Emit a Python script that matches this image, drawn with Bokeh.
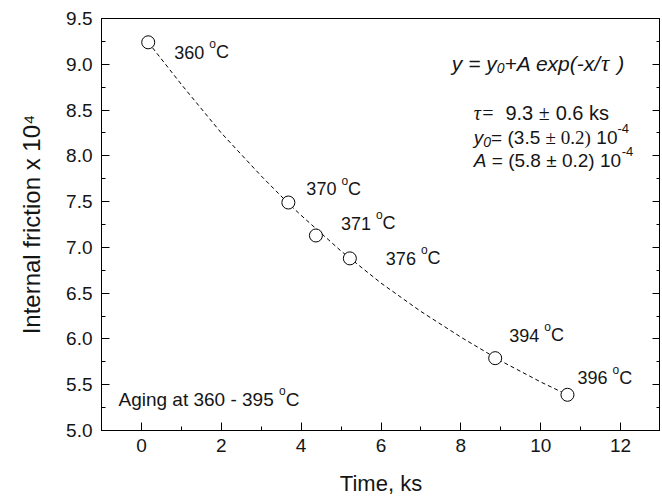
from bokeh.plotting import figure
from bokeh.models import Label, LinearAxis, SingleIntervalTicker, NumeralTickFormatter
from bokeh.embed import file_html
from bokeh.resources import INLINE

# ---- data ----
time_ks = [0.17, 3.68, 4.37, 5.22, 8.86, 10.67]
friction = [9.24, 7.49, 7.13, 6.88, 5.79, 5.39]
temps = ["360", "370", "371", "376", "394", "396"]
fit_x = [0.17, 1, 2, 3, 3.68, 4, 5, 6, 7, 8, 9, 10, 10.67]
fit_y = [9.24, 8.78, 8.25, 7.78, 7.48, 7.35, 6.96, 6.61, 6.30, 6.02, 5.76, 5.53, 5.39]

SANS = "Liberation Sans"
SERIF = "Liberation Serif"
INK = "#151515"

p = figure(frame_width=559, frame_height=412, x_range=(-1, 13), y_range=(5, 9.5),
           output_backend="svg", toolbar_location=None,
           min_border_left=101, min_border_top=18, min_border_right=0, min_border_bottom=62)
p.grid.visible = False
p.outline_line_color = "black"
p.outline_line_width = 1
p.background_fill_color = "white"
p.border_fill_color = "white"

xt = SingleIntervalTicker(interval=2, num_minor_ticks=2)
yt = SingleIntervalTicker(interval=0.5, num_minor_ticks=2)
p.xaxis.ticker = xt
p.yaxis.ticker = yt
p.yaxis.formatter = NumeralTickFormatter(format="0.0")
for ax in (p.xaxis[0], p.yaxis[0]):
    ax.major_tick_in = 8
    ax.major_tick_out = 0
    ax.minor_tick_in = 4
    ax.minor_tick_out = 0
    ax.axis_line_color = "black"
    ax.major_tick_line_color = "black"
    ax.minor_tick_line_color = "black"
    ax.major_label_text_font = SANS
    ax.major_label_text_font_size = "19px"
    ax.major_label_text_color = INK
    ax.axis_label_text_font = SANS
    ax.axis_label_text_font_style = "normal"
    ax.axis_label_text_color = INK
p.xaxis.axis_label = "Time, ks"
p.yaxis.axis_label = "Internal friction x 10\u2074"
p.xaxis.axis_label_text_font_size = "22px"
p.yaxis.axis_label_text_font_size = "24px"
p.xaxis.major_label_standoff = 8
p.yaxis.major_label_standoff = 9
p.xaxis.axis_label_standoff = 16
p.yaxis.axis_label_standoff = 18

rax = LinearAxis(ticker=yt, major_label_text_font_size="0px", major_tick_in=8, major_tick_out=0,
                 minor_tick_in=4, minor_tick_out=0, major_label_standoff=0,
                 axis_line_color="black")
p.add_layout(rax, "right")

p.line(fit_x, fit_y, line_color="black", line_width=1, line_dash="4 3")
p.scatter(time_ks, friction, size=13, marker="circle", fill_color="white",
          line_color="black", line_width=1)

W = {
    SANS: {" ": .278, "(": .333, ")": .333, "+": .584, "-": .333, ".": .278, "/": .278,
           "=": .584, "A": .667, "C": .722, "e": .556, "k": .5, "o": .556, "p": .556,
           "s": .5, "x": .5, "y": .5, "\u00b1": .584, "g": .556, "i": .222, "n": .556,
           "a": .556, "t": .278},
    SERIF: {" ": .25, "(": .333, ")": .333, ".": .25, "=": .564, "\u00b1": .564, "\u03c4": .46},
}


def tw(s, font, size):
    d = W[font]
    dig = .556 if font == SANS else .5
    return sum(d.get(ch, dig if ch.isdigit() else .55) for ch in s) * size


def runs(x, y, dx, dy, parts):
    off = dx
    for text, font, size, style, rise in parts:
        body = text.lstrip(" ")
        off += tw(text[:len(text) - len(body)], font, size)
        if body.strip():
            p.add_layout(Label(x=x, y=y, x_offset=off, y_offset=dy + rise, text=body.rstrip(" "),
                               text_font=font, text_font_size=f"{size}px", text_font_style=style,
                               text_color=INK, text_align="left", text_baseline="alphabetic"))
        off += tw(body, font, size)


def page(px, py):
    return (px - 140) / 40.0, 9.5 - (py - 18) / 91.56


# data-point temperature labels (offsets in px from each point)
offsets = [(26, -10), (18, 14), (25, 12), (36, 0), (14, 23), (10, 17)]
for t, f, lab, (ox, oy) in zip(time_ks, friction, temps, offsets):
    runs(t, f, ox, oy, [(lab + " ", SANS, 18, "normal", 0), ("o", SANS, 12, "normal", 8),
                        ("C", SANS, 18, "normal", 0)])

# fit equation and parameters
x0, y0 = page(451, 63)
runs(x0, y0, 0, 0, [("y = y", SANS, 21, "italic", 0), ("0", SANS, 14, "italic", -5),
                    ("+A exp(-x/", SANS, 21, "italic", 0), ("\u03c4", SERIF, 23, "italic", 0),
                    (" )", SANS, 21, "italic", 0)])
x0, y0 = page(473, 113)
runs(x0, y0, 0, 0, [("\u03c4=", SERIF, 20, "italic", 0), ("  9.3 ", SANS, 20, "normal", 0),
                    ("\u00b1", SERIF, 20, "normal", 0), (" 0.6 ks", SANS, 20, "normal", 0)])
x0, y0 = page(473, 137)
runs(x0, y0, 0, 0, [("y", SANS, 19, "italic", 0), ("0", SANS, 14, "italic", -5),
                    ("= (3.5 ", SANS, 19, "normal", 0), ("\u00b1 0.2)", SERIF, 19, "normal", 0),
                    (" 10", SANS, 19, "normal", 0), ("-4", SANS, 13, "normal", 9)])
x0, y0 = page(473, 160)
runs(x0, y0, 0, 0, [("A", SANS, 19, "italic", 0), (" = (5.8 \u00b1 0.2) 10", SANS, 19, "normal", 0),
                    ("-4", SANS, 13, "normal", 9)])
x0, y0 = page(117, 399)
runs(x0, y0, 0, 0, [("Aging at 360 - 395 ", SANS, 19, "normal", 0), ("o", SANS, 12, "normal", 8),
                    ("C", SANS, 19, "normal", 0)])

open("out.html", "w").write(file_html(p, INLINE))
